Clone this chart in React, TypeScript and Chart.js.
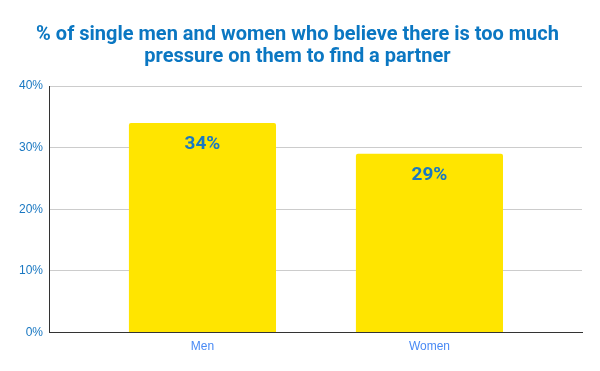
import React, { useEffect, useRef } from "react";
import { Chart, registerables } from "chart.js";

Chart.register(...registerables);

const categories = ["Men", "Women"];
const values = [34, 29];
const yTicks = [0, 10, 20, 30, 40];
const titleLines = [
  "% of single men and women who believe there is too much",
  "pressure on them to find a partner",
];

const barLabelPlugin = {
  id: "barLabels",
  afterDatasetsDraw(chart: any) {
    const ctx = chart.ctx;
    const meta = chart.getDatasetMeta(0);
    ctx.save();
    ctx.font = "bold 19px Roboto";
    ctx.fillStyle = "#1a78c2";
    ctx.textAlign = "center";
    ctx.textBaseline = "middle";
    meta.data.forEach((el: any, i: number) => {
      ctx.fillText(values[i] + "%", el.x, el.y + 21);
    });
    ctx.restore();
  },
};

export default function App() {
  const ref = useRef<HTMLCanvasElement>(null);
  useEffect(() => {
    document.body.style.margin = "0";
    const chart = new Chart(ref.current!, {
      type: "bar",
      data: {
        datasets: [
          {
            data: categories.map((c, i) => ({ x: i, y: values[i] })),
            backgroundColor: "#ffe500",
            borderRadius: { topLeft: 2, topRight: 2 },
            borderSkipped: "bottom",
            barPercentage: 0.648,
            categoryPercentage: 1,
          },
        ],
      },
      options: {
        animation: false,
        responsive: false,
        layout: { padding: { left: 13, right: 18, bottom: 10 } },
        plugins: {
          legend: { display: false },
          tooltip: { enabled: false },
          title: {
            display: true,
            text: titleLines,
            color: "#0b77c2",
            font: { family: "Roboto", size: 20, weight: "bold", lineHeight: 1.1 },
            padding: { top: 24, bottom: 18 },
          },
        },
        scales: {
          x: {
            type: "linear",
            offset: false,
            min: -0.676,
            max: 1.672,
            afterBuildTicks: (s: any) => {
              s.ticks = categories.map((_, i) => ({ value: i }));
            },
            ticks: {
              callback: (v: any) => categories[v as number] ?? "",
              color: "#4a8af4",
              font: { family: "Liberation Sans", size: 12 },
              padding: 7,
              autoSkip: false,
              maxRotation: 0,
            },
            grid: { display: false, drawTicks: false, offset: false },
            border: { display: true, color: "#333333", width: 1 },
          },
          y: {
            min: 0,
            max: 40,
            afterBuildTicks: (s: any) => {
              s.ticks = yTicks.map((v) => ({ value: v }));
            },
            ticks: {
              callback: (v: any) => v + "%",
              color: "#1a78c2",
              font: { family: "Liberation Sans", size: 12 },
              padding: 6,
            },
            grid: { color: "#cccccc", drawTicks: false },
            border: { display: true, color: "#333333", width: 1 },
          },
        },
      },
      plugins: [barLabelPlugin],
    });
    return () => chart.destroy();
  }, []);
  return (
    <div style={{ width: 600, height: 371 }}>
      <canvas ref={ref} width={600} height={371} />
    </div>
  );
}
